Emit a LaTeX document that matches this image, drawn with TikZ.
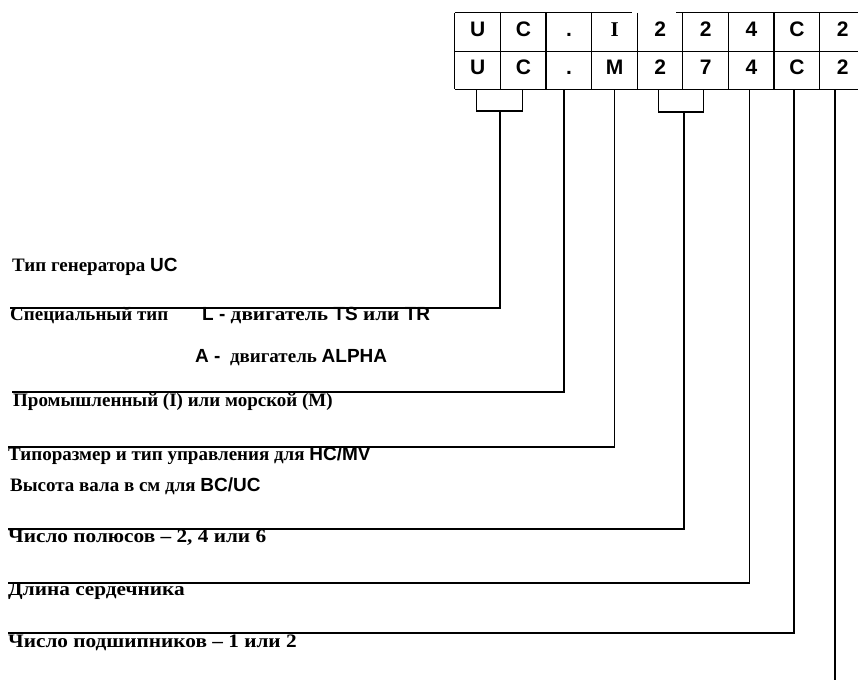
\documentclass[tikz,border=0pt]{standalone}
\usepackage{fontspec}
\setmainfont{Liberation Serif}
\newfontfamily\latfont{Liberation Sans}
\newcommand{\lat}[1]{{\latfont #1}}

\begin{document}
\begin{tikzpicture}[x=1pt, y=-1pt,
  cell/.style={minimum width=45.6pt, minimum height=38pt, inner sep=0pt,
    text height=15pt, text depth=5pt,
    font=\latfont\bfseries\fontsize{21}{21}\selectfont},
  lbl/.style={anchor=base west, inner sep=0pt,
    font=\bfseries\fontsize{19}{19}\selectfont},
  wide/.style={lbl, font=\bfseries\fontsize{19}{19}\selectfont\addfontfeature{FakeStretch=1.12}},
  wire/.style={line width=1.1pt}]
 \useasboundingbox (0,0) rectangle (858,679);

 % Code boxes
 \foreach \t [count=\i] in {U,C,.,{\rmfamily I},2,2,4,C,2}
   \node[cell] (c\i) at (455+45.6*\i-22.8, 32) {\t};
 \foreach \t [count=\i] in {U,C,.,M,2,7,4,C,2}
   \node[cell] (m\i) at (455+45.6*\i-22.8, 70) {\t};

 % Grid
 \draw[wire] (c1.north west) -- ([xshift=-6pt]c4.north east);
 \draw[wire] ([xshift=-7pt]c5.north east) -- (c9.north east);
 \draw[wire] (c1.south west) -- (c9.south east);
 \draw[wire] (m1.south west) -- (m9.south east);
 \foreach \i in {1,...,9}
   \draw[wire] (c\i.north west) -- (m\i.south west);
 \draw[wire] (c9.north east) -- (m9.south east);

 % Line ends
 \coordinate (e1) at (10,308);
 \coordinate (e2) at (12,392);
 \coordinate (e3) at (8,447);
 \coordinate (e4) at (8,529);
 \coordinate (e5) at (8,583);
 \coordinate (e6) at (8,633);
 \coordinate (e7) at (835,681);
 \coordinate (b1) at (500,111);
 \coordinate (b2) at (684,112);

 % Connections
 \draw[wire] ([xshift=-1pt]m1.south) |- (b1) -| ([xshift=-1pt]m2.south);
 \draw[wire] (b1) |- (e1);
 \draw[wire] ([xshift=-5pt]m3.south) |- (e2);
 \draw[wire] (m4.south) |- (e3);
 \draw[wire] ([xshift=-2pt]m5.south) |- (b2) -| ([xshift=-2pt]m6.south);
 \draw[wire] (b2) |- (e4);
 \draw[wire] ([xshift=-2pt]m7.south) |- (e5);
 \draw[wire] ([xshift=-3pt]m8.south) |- (e6);
 \draw[wire] (e7 |- m9.south) -- (e7);

 % Labels
 \node[lbl] (gen) at (12,271) {Тип генератора \lat{UC}};
 \node[lbl] (spec) at (10,320) {Специальный тип};
 \node[wide] (specL) at (202,320) {\lat{L -} двигатель \lat{TS} или \lat{TR}};
 \node[lbl] (specA) at (195,362) {\lat{A -}\ \ двигатель \lat{ALPHA}};
 \node[lbl] (ind) at (13,406) {Промышленный (I) или морской (M)};
 \node[lbl] (size) at (8,460) {Типоразмер и тип управления для \lat{HC/MV}};
 \node[lbl] (shaft) at (10,491) {Высота вала в см для \lat{BC/UC}};
 \node[wide] (poles) at (8,542) {Число полюсов -- 2, 4 или 6};
 \node[wide] (core) at (8,595) {Длина сердечника};
 \node[wide] (bear) at (8,647) {Число подшипников -- 1 или 2};
\end{tikzpicture}
\end{document}
